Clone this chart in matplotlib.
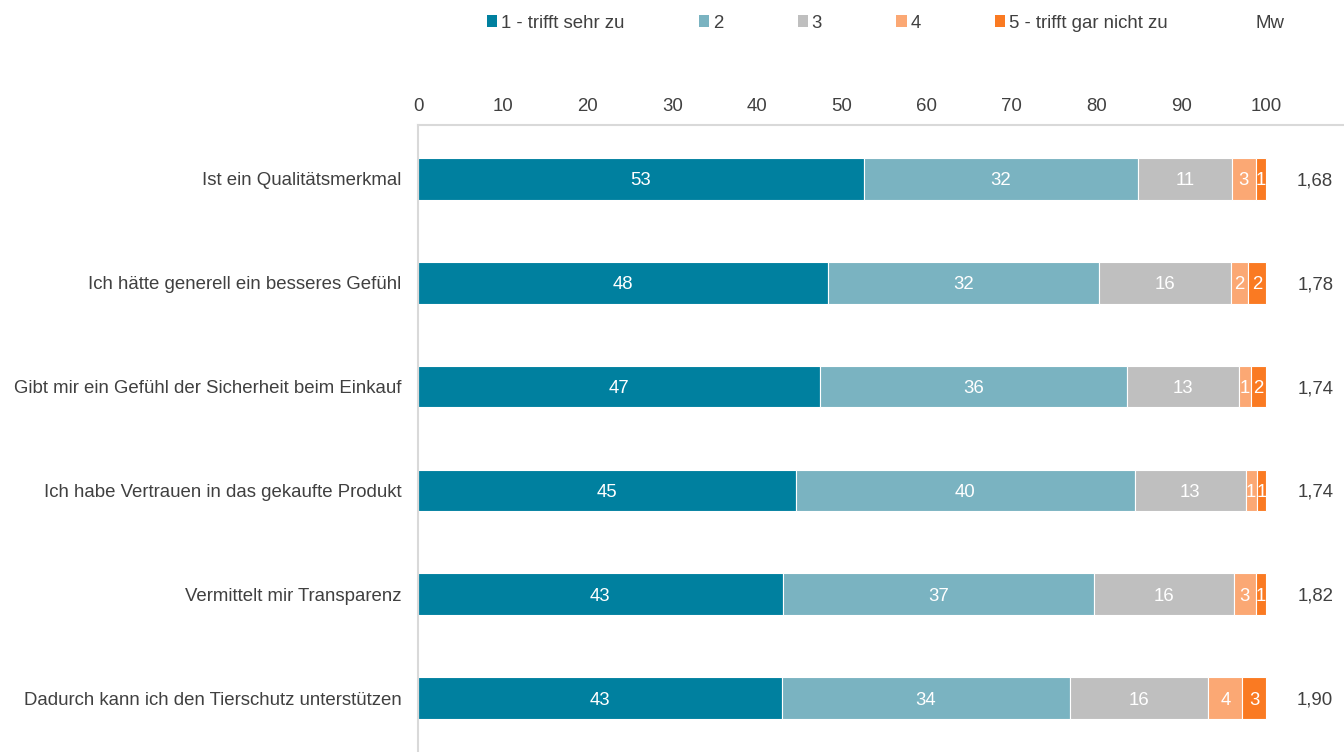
import numpy as np
import matplotlib.pyplot as plt
from matplotlib.patches import Patch

plt.rcParams['font.family'] = ['Liberation Sans', 'DejaVu Sans']

# Data (percent)
categories = [
    "Ist ein Qualitätsmerkmal",
    "Ich hätte generell ein besseres Gefühl",
    "Gibt mir ein Gefühl der Sicherheit beim Einkauf",
    "Ich habe Vertrauen in das gekaufte Produkt",
    "Vermittelt mir Transparenz",
    "Dadurch kann ich den Tierschutz unterstützen",
]
series_names = ["1 - trifft sehr zu", "2", "3", "4", "5 - trifft gar nicht zu"]
s1 = [52.6, 48.3, 47.4, 44.6, 43.0, 42.9]
s2 = [32.3, 32.0, 36.2, 39.9, 36.7, 34.0]
s3 = [11.1, 15.6, 13.2, 13.1, 16.5, 16.3]
s4 = [2.8, 2.0, 1.4, 1.3, 2.6, 4.0]
s5 = [1.2, 2.1, 1.8, 1.1, 1.2, 2.8]
mw = ["1,68", "1,78", "1,74", "1,74", "1,82", "1,90"]

colors = ["#00809F", "#7AB3C1", "#BFBFBF", "#FBA874", "#FA7A22"]
text_col = "#404040"
fs = 13.4

fig = plt.figure(figsize=(13.44, 7.52), dpi=100)
ax = fig.add_axes([418 / 1344, 0, 1 - 418 / 1344, 1 - 125 / 752])

y = np.arange(len(categories))
left = np.zeros(len(categories))
for vals, col in zip([s1, s2, s3, s4, s5], colors):
    vals = np.array(vals)
    ax.barh(y, vals, left=left, height=0.4, color=col, edgecolor="white", linewidth=0.8)
    for yi, l, v in zip(y, left, vals):
        ax.text(l + v / 2, yi, f"{int(round(v))}", ha="center", va="center_baseline",
                color="white", fontsize=fs)
    left += vals

for yi, m in zip(y, mw):
    ax.text(105.8, yi, m, ha="center", va="center_baseline", color=text_col, fontsize=fs)

ax.set_xlim(0, 109.2)
ax.set_ylim(len(categories) - 0.48, -0.52)
ax.set_yticks(y)
ax.set_yticklabels(categories)
ax.set_xticks(np.arange(0, 101, 10))
ax.xaxis.tick_top()
ax.tick_params(axis="both", length=0, labelsize=fs, colors=text_col)
ax.tick_params(axis="x", pad=7)
ax.tick_params(axis="y", pad=12)
for side in ["right", "bottom"]:
    ax.spines[side].set_visible(False)
for side in ["left", "top"]:
    ax.spines[side].set_color("#D9D9D9")
    ax.spines[side].set_linewidth(1.5)

handles = [Patch(facecolor=c, edgecolor="none") for c in colors]
handles.append(Patch(facecolor="none", edgecolor="none"))
labels = series_names + ["Mw"]
leg = fig.legend(handles, labels, loc="center", bbox_to_anchor=(886 / 1344, 1 - 23 / 752),
                 ncol=6, frameon=False, fontsize=fs, handlelength=0.55, handleheight=0.55,
                 handletextpad=0.2, columnspacing=4.0)
for t in leg.get_texts():
    t.set_color(text_col)

fig.savefig("out.png", dpi=100)
